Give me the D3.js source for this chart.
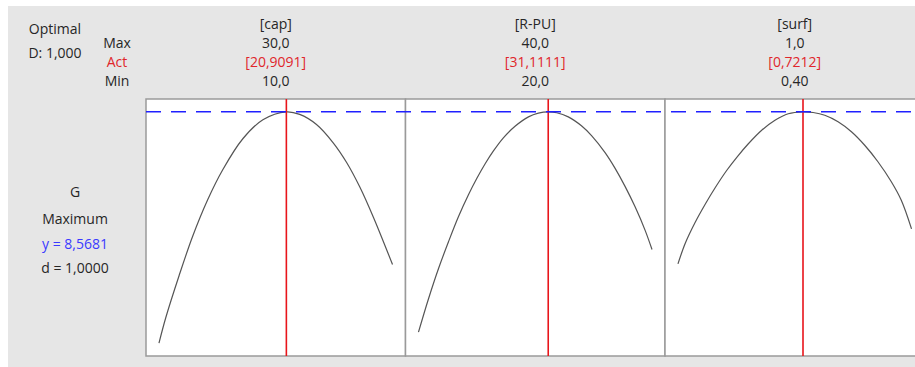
<!DOCTYPE html>
<html>
<head>
<meta charset="utf-8">
<script src="https://cdn.jsdelivr.net/npm/d3@7"></script>
<style>
  body { margin: 0; background: #fff; }
  text { font-family: "Open Sans", "Noto Sans", sans-serif; font-size: 14px; fill: #262626; }
</style>
</head>
<body>
<div id="chart"></div>
<script>
// Response optimizer plot for G: one panel per factor

// factor headers
var factors = ["[cap]", "[R-PU]", "[surf]"];
var highLabels = ["30,0", "40,0", "1,0"];
var actLabels = ["[20,9091]", "[31,1111]", "[0,7212]"];
var lowLabels = ["10,0", "20,0", "0,40"];
var lows = [10, 20, 0.4];
var highs = [30, 40, 1.0];
var optimum = [20.9091, 31.1111, 0.7212];
var yOpt = 8.5681;

// traced curves (factor value, predicted G)
var capX = [10.0, 10.58, 11.72, 12.87, 14.17, 15.46, 17.18, 18.90, 20.9091, 22.05, 23.49, 24.92, 26.07, 27.21, 28.37, 30.0];
var capG = [3.942, 4.450, 5.290, 6.070, 6.810, 7.410, 8.030, 8.410, 8.5681, 8.518, 8.316, 7.950, 7.556, 7.060, 6.456, 5.514];

var rpuX = [20.0, 20.86, 21.71, 22.57, 23.42, 24.28, 24.99, 25.71, 26.42, 27.27, 28.27, 29.42, 30.27, 31.1111, 31.84, 32.83, 33.98, 34.84, 35.98, 36.84, 37.69, 38.55, 39.41, 40.0];
var rpuG = [4.162, 4.830, 5.430, 5.970, 6.470, 6.910, 7.234, 7.530, 7.786, 8.048, 8.280, 8.468, 8.542, 8.5681, 8.550, 8.467, 8.284, 8.088, 7.752, 7.438, 7.078, 6.668, 6.198, 5.814];

var surfX = [0.400, 0.4187, 0.4443, 0.4699, 0.4955, 0.5255, 0.5511, 0.5808, 0.6151, 0.6492, 0.6833, 0.7212, 0.7473, 0.7772, 0.8113, 0.8456, 0.8797, 0.9137, 0.9481, 0.9737, 1.0];
var surfG = [5.528, 5.940, 6.360, 6.720, 7.050, 7.400, 7.660, 7.930, 8.200, 8.400, 8.530, 8.5681, 8.555, 8.500, 8.370, 8.170, 7.900, 7.570, 7.170, 6.800, 6.228];

var curvesX = [capX, rpuX, surfX];
var curvesG = [capG, rpuG, surfG];

var svgWidth = 915;
var svgHeight = 367;

var plotLeft = 146;
var plotTop = 99;
var panelW = 259.5;
var panelH = 257;

var svg = d3.select("#chart")
    .append("svg")
    .attr("width", svgWidth)
    .attr("height", svgHeight);

// gray frame
svg.append("rect")
    .attr("x", 8)
    .attr("y", 6)
    .attr("width", svgWidth - 8)
    .attr("height", svgHeight - 6)
    .attr("fill", "#e6e6e6");

// y scale shared by all panels, 5% padding like minitab
var allG = d3.merge(curvesG);
var yScale = d3.scaleLinear()
    .domain([d3.min(allG), yOpt])
    .range([panelH * 0.95, panelH * 0.05]);

// left labels
svg.append("text").attr("x", 55).attr("y", 34).attr("text-anchor", "middle").text("Optimal");
svg.append("text").attr("x", 55).attr("y", 58).attr("text-anchor", "middle").text("D: 1,000");
svg.append("text").attr("x", 117).attr("y", 48).attr("text-anchor", "middle").text("Max");
svg.append("text").attr("x", 117).attr("y", 67).attr("text-anchor", "middle").style("fill", "#e0262b").text("Act");
svg.append("text").attr("x", 117).attr("y", 86).attr("text-anchor", "middle").text("Min");

svg.append("text").attr("x", 75).attr("y", 197).attr("text-anchor", "middle").text("G");
svg.append("text").attr("x", 75).attr("y", 224).attr("text-anchor", "middle").text("Maximum");
svg.append("text").attr("x", 75).attr("y", 249).attr("text-anchor", "middle").style("fill", "#3a3aff").text("y = 8,5681");
svg.append("text").attr("x", 75).attr("y", 273).attr("text-anchor", "middle").text("d = 1,0000");

var line = d3.line().curve(d3.curveCatmullRom.alpha(0.5));

factors.forEach(function(name, i) {
    var g = svg.append("g")
        .attr("transform", `translate(${plotLeft + i * panelW}, ${plotTop})`);

    var xScale = d3.scaleLinear()
        .domain([lows[i], highs[i]])
        .range([panelW * 0.05, panelW * 0.95]);

    // header texts above panel
    var cx = panelW / 2;
    g.append("text").attr("x", cx).attr("y", 29 - plotTop).attr("text-anchor", "middle").text(name);
    g.append("text").attr("x", cx).attr("y", 48 - plotTop).attr("text-anchor", "middle").text(highLabels[i]);
    g.append("text").attr("x", cx).attr("y", 67 - plotTop).attr("text-anchor", "middle").style("fill", "#e0262b").text(actLabels[i]);
    g.append("text").attr("x", cx).attr("y", 86 - plotTop).attr("text-anchor", "middle").text(lowLabels[i]);

    g.append("rect")
        .attr("width", panelW)
        .attr("height", panelH)
        .attr("fill", "#fff")
        .attr("stroke", "#9a9a9a")
        .attr("stroke-width", 1.5);

    var pts = curvesX[i].map(function(x, k) {
        return [xScale(x), yScale(curvesG[i][k])];
    });

    g.append("path")
        .attr("d", line(pts))
        .attr("fill", "none")
        .attr("stroke", "#555")
        .attr("stroke-width", 1.2);

    g.append("line")
        .attr("x1", xScale(optimum[i]))
        .attr("x2", xScale(optimum[i]))
        .attr("y1", 0)
        .attr("y2", panelH)
        .attr("stroke", "#e8151b")
        .attr("stroke-width", 1.6);
});

// dashed line at optimal response across all panels
svg.append("line")
    .attr("x1", plotLeft)
    .attr("x2", svgWidth)
    .attr("y1", plotTop + yScale(yOpt))
    .attr("y2", plotTop + yScale(yOpt))
    .attr("stroke", "#2020ff")
    .attr("stroke-width", 1.5)
    .attr("stroke-dasharray", "15,10");
</script>
</body>
</html>
